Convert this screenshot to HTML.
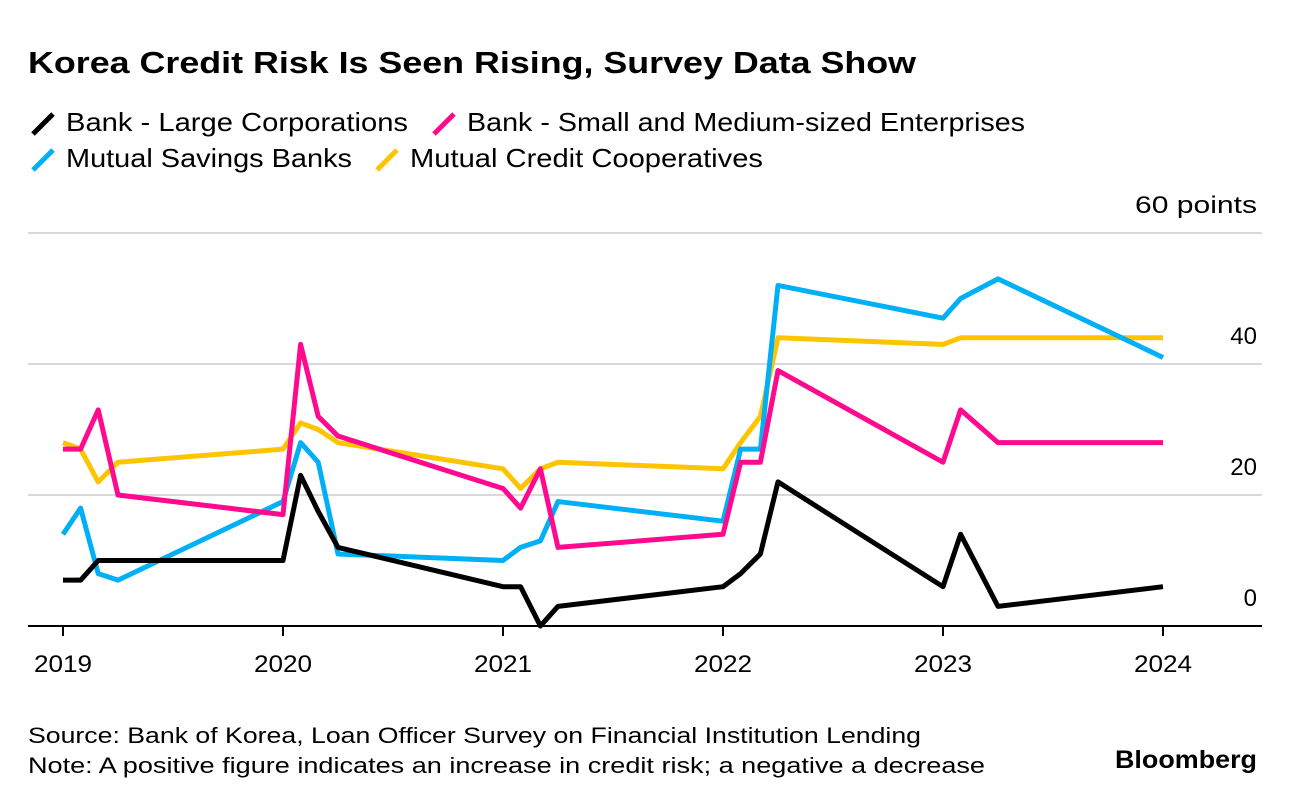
<!DOCTYPE html>
<html><head><meta charset="utf-8"><style>
body{margin:0;background:#fff;font-family:"Liberation Sans",sans-serif;}
svg text{font-family:"Liberation Sans",sans-serif;}
</style></head><body>
<svg id="chart" width="1296" height="804">
<text x="28" y="73" font-size="31" font-weight="bold" fill="#000" textLength="888" lengthAdjust="spacingAndGlyphs">Korea Credit Risk Is Seen Rising, Survey Data Show</text>
<g font-size="26" fill="#000">
<g><line x1="33" y1="134" x2="53" y2="114" stroke="#000" stroke-width="5"/><text x="66" y="131" textLength="342" lengthAdjust="spacingAndGlyphs">Bank - Large Corporations</text></g>
<g><line x1="434" y1="134" x2="454" y2="114" stroke="#ff0a8f" stroke-width="5"/><text x="467" y="131" textLength="558" lengthAdjust="spacingAndGlyphs">Bank - Small and Medium-sized Enterprises</text></g>
<g><line x1="33" y1="170" x2="53" y2="150" stroke="#00b0f6" stroke-width="5"/><text x="66" y="167" textLength="286" lengthAdjust="spacingAndGlyphs">Mutual Savings Banks</text></g>
<g><line x1="377" y1="170" x2="397" y2="150" stroke="#ffc400" stroke-width="5"/><text x="410" y="167" textLength="353" lengthAdjust="spacingAndGlyphs">Mutual Credit Cooperatives</text></g>
</g>
<g id="grid"></g><g id="series"></g><g id="xaxis"></g>
<text x="28" y="743" font-size="22" fill="#000" textLength="893" lengthAdjust="spacingAndGlyphs">Source: Bank of Korea, Loan Officer Survey on Financial Institution Lending</text>
<text x="28" y="773" font-size="22" fill="#000" textLength="957" lengthAdjust="spacingAndGlyphs">Note: A positive figure indicates an increase in credit risk; a negative a decrease</text>
<text x="1115" y="768" font-size="25" font-weight="bold" fill="#000" textLength="142" lengthAdjust="spacingAndGlyphs">Bloomberg</text>
</svg>
<script>
const yTicks=[0,20,40,60];
const xTicks=[2019,2020,2021,2022,2023,2024];
const dates=[2019,2019.08,2019.16,2019.25,2020,2020.08,2020.16,2020.25,2021,2021.08,2021.17,2021.25,2022,2022.08,2022.17,2022.25,2023,2023.08,2023.25,2024];
const largeCorp=[7,7,10,10,10,23,17.5,12,6,6,0,3,6,8,11,22,6,14,3,6];
const sme=[27,27,33,20,17,43,32,29,21,18,24,12,14,25,25,39,25,33,28,28];
const savings=[14,18,8,7,19,28,25,11,10,12,13,19,16,27,27,52,47,50,53,41];
const coop=[28,27,22,25,27,31,30,28,24,21,24,25,24,28,32,44,43,44,44,44];
const NS="http://www.w3.org/2000/svg";
const xs=v=>63+(v-2019)*220;
const ys=v=>626-v*6.55;
const grid=document.getElementById('grid');
yTicks.forEach(t=>{
 if(t>0){const l=document.createElementNS(NS,'line');
 l.setAttribute('x1',28);l.setAttribute('x2',1262);l.setAttribute('y1',ys(t));l.setAttribute('y2',ys(t));
 l.setAttribute('stroke','#d9d9d9');l.setAttribute('stroke-width',2);
 
 
 grid.appendChild(l);}
 const tx=document.createElementNS(NS,'text');
 tx.setAttribute('x',1257);tx.setAttribute('y',ys(t)-20);tx.setAttribute('text-anchor','end');tx.setAttribute('font-size',24);
 tx.textContent=t===60?'60 points':String(t);
 if(t===60){tx.setAttribute('textLength',122);tx.setAttribute('lengthAdjust','spacingAndGlyphs');}
 
 
 grid.appendChild(tx);
});
const xa=document.getElementById('xaxis');
const ax=document.createElementNS(NS,'line');
ax.setAttribute('x1',28);ax.setAttribute('x2',1262);ax.setAttribute('y1',626);ax.setAttribute('y2',626);ax.setAttribute('stroke','#000');ax.setAttribute('stroke-width',2);


xa.appendChild(ax);
xTicks.forEach(t=>{
 const l=document.createElementNS(NS,'line');
 l.setAttribute('x1',xs(t));l.setAttribute('x2',xs(t));l.setAttribute('y1',626);l.setAttribute('y2',636);l.setAttribute('stroke','#000');l.setAttribute('stroke-width',2);
 
 
 xa.appendChild(l);
 const tx=document.createElementNS(NS,'text');
 tx.setAttribute('x',xs(t));tx.setAttribute('y',672);tx.setAttribute('text-anchor','middle');tx.setAttribute('font-size',24);
 tx.setAttribute('textLength',58);tx.setAttribute('lengthAdjust','spacingAndGlyphs');
 tx.textContent=t;
 
 
 xa.appendChild(tx);
});
const sg=document.getElementById('series');
[[coop,'#ffc400','coop'],[savings,'#00b0f6','savings'],[sme,'#ff0a8f','sme'],[largeCorp,'#000','large-corp']].forEach(([vals,c,n])=>{
 const p=document.createElementNS(NS,'path');
 p.setAttribute('d',vals.map((v,i)=>(i?'L':'M')+xs(dates[i])+','+ys(v)).join(''));
 p.setAttribute('fill','none');p.setAttribute('stroke',c);p.setAttribute('stroke-width',5);p.setAttribute('stroke-linejoin','round');
 
 
 sg.appendChild(p);
});
</script>
</body></html>
